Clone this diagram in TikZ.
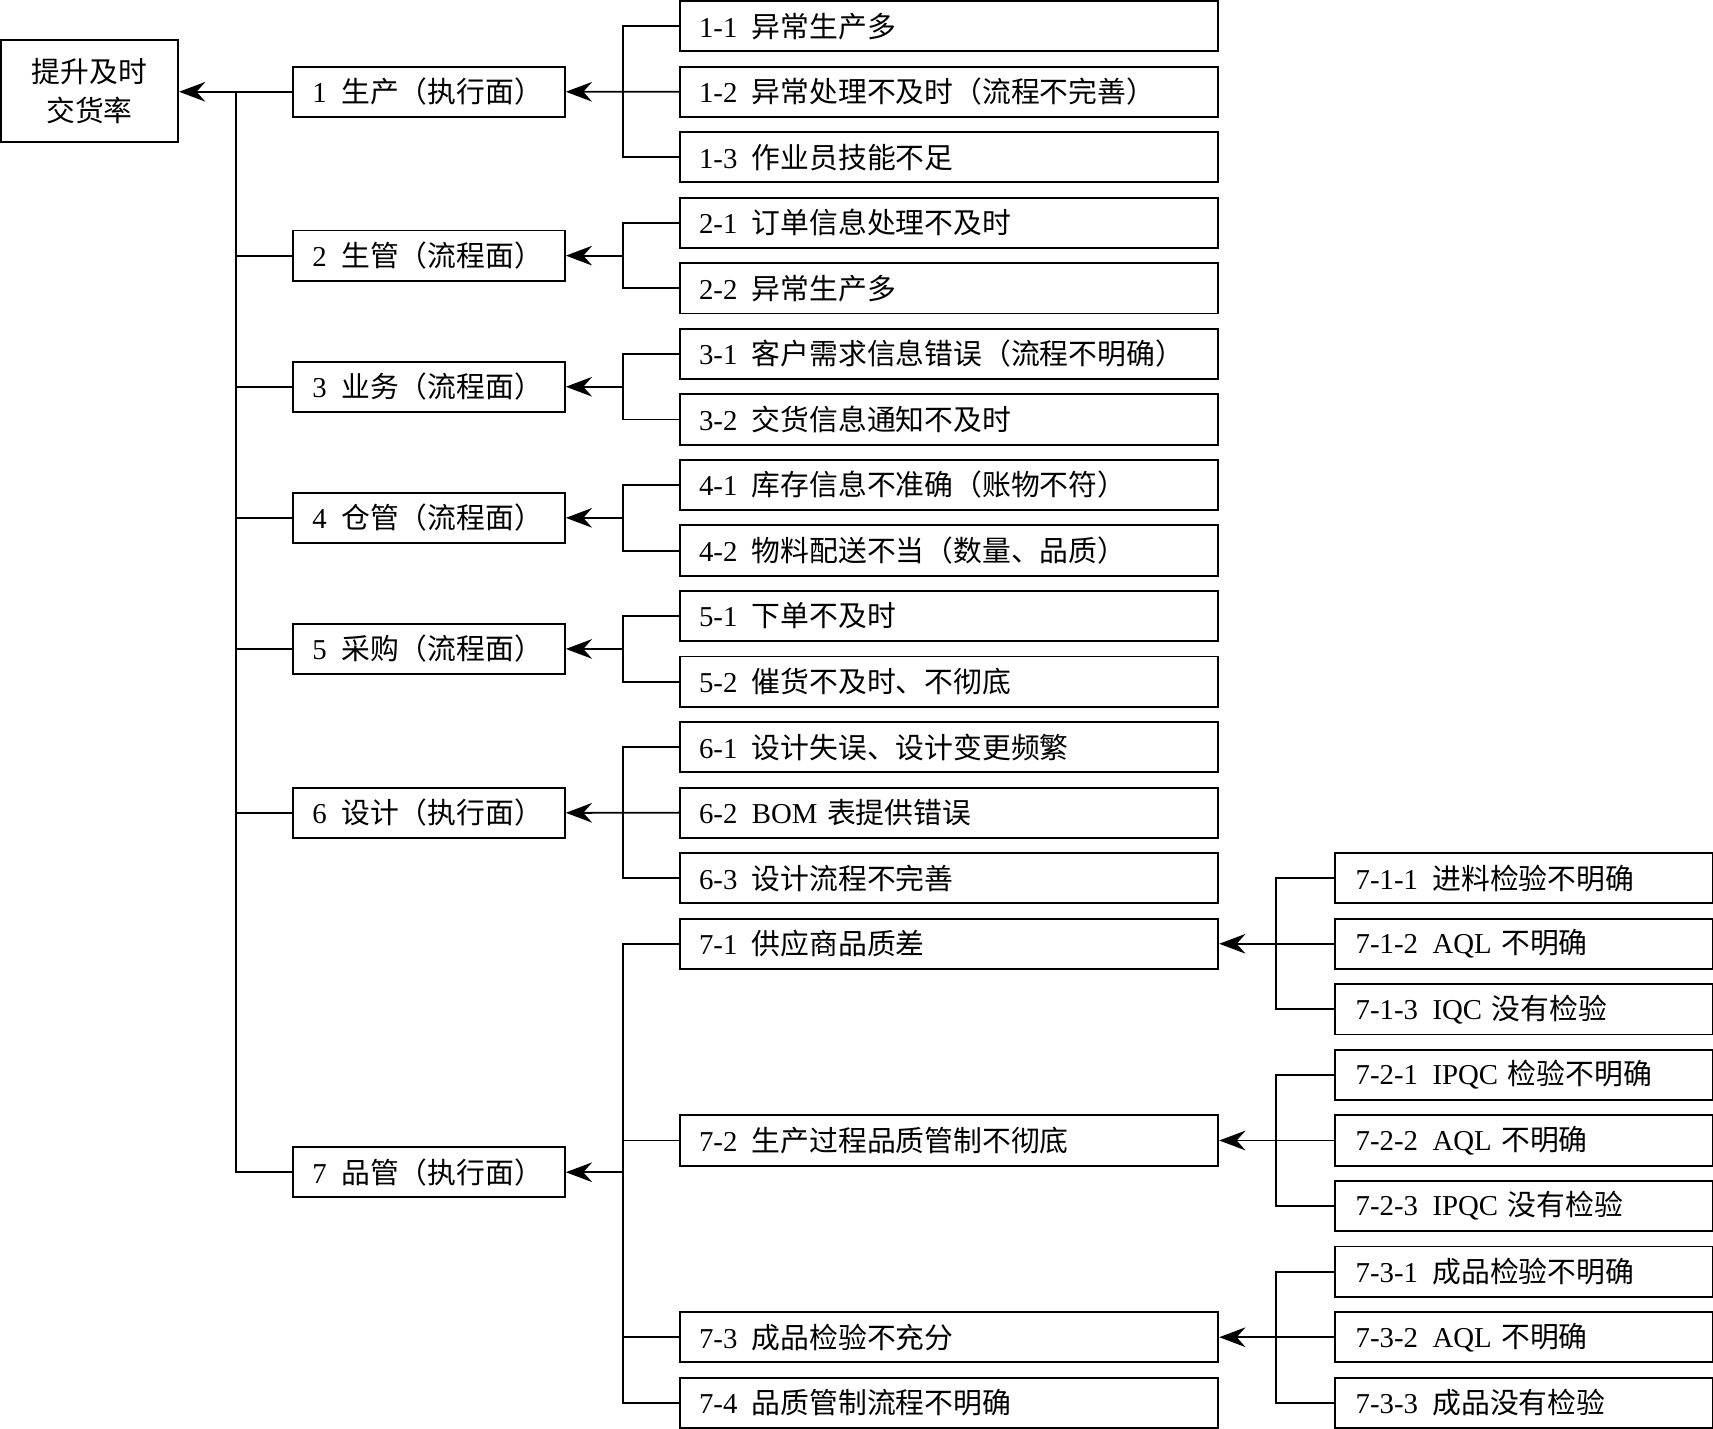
\documentclass[tikz,border=0pt]{standalone}
\usepackage{fontspec}
\setmainfont{Liberation Serif}
\newfontfamily\cjk{Noto Sans CJK SC}
\usepackage{tikz}
\usetikzlibrary{%
  arrows.meta, positioning, calc
}
\usepackage{xcolor}
\newcommand{\lbl}[2]{#1\enspace{\cjk #2}}
\tikzstyle{rootbox} = [%
  rectangle,
  draw=black,
  minimum width=1.62cm,
  minimum height=0.93cm,
  align=center,
  inner sep=1pt
]
\tikzstyle{catbox} = [%
  rectangle,
  draw=black,
  minimum height=0.46cm,
  text width=2.13cm,
  inner xsep=0.18cm,
  inner ysep=0pt,
  align=left
]
\tikzstyle{causebox} = [%
  rectangle,
  draw=black,
  minimum height=0.46cm,
  text width=4.58cm,
  inner xsep=0.17cm,
  inner ysep=0pt,
  align=left
]
\tikzstyle{subbox} = [%
  rectangle,
  draw=black,
  minimum height=0.46cm,
  text width=3.08cm,
  inner xsep=0.19cm,
  inner ysep=0pt,
  align=left
]

\begin{document}
\begin{tikzpicture}[%
  x=0.01cm, y=-0.01cm,
  line width=0.5pt,
  >={Stealth[length=2.4mm,width=1.8mm,inset=0.8mm]},
  every node/.style={%
    font=\fontsize{7.5pt}{10pt}\selectfont,
    text=black
  }
]
  \useasboundingbox (0,0) rectangle (1568,1308);

  % Goal
  \node[rootbox] (Goal) at (82,83.5) {{\cjk 提升及时}\\{\cjk 交货率}};

  % Categories
  \node[catbox] (K1) at (392.5,84)   {\lbl{1}{生产（执行面）}};
  \node[catbox] (K2) at (392.5,234)  {\lbl{2}{生管（流程面）}};
  \node[catbox] (K3) at (392.5,354)  {\lbl{3}{业务（流程面）}};
  \node[catbox] (K4) at (392.5,474)  {\lbl{4}{仓管（流程面）}};
  \node[catbox] (K5) at (392.5,594)  {\lbl{5}{采购（流程面）}};
  \node[catbox] (K6) at (392.5,744)  {\lbl{6}{设计（执行面）}};
  \node[catbox] (K7) at (392.5,1073) {\lbl{7}{品管（执行面）}};

  % Causes
  \node[causebox] (C11) at (869,24) {\lbl{1-1}{异常生产多}};
  \node[causebox,below=0.122cm of C11] (C12) {\lbl{1-2}{异常处理不及时（流程不完善）}};
  \node[causebox,below=0.122cm of C12] (C13) {\lbl{1-3}{作业员技能不足}};
  \node[causebox,below=0.122cm of C13] (C21) {\lbl{2-1}{订单信息处理不及时}};
  \node[causebox,below=0.122cm of C21] (C22) {\lbl{2-2}{异常生产多}};
  \node[causebox,below=0.122cm of C22] (C31) {\lbl{3-1}{客户需求信息错误（流程不明确）}};
  \node[causebox,below=0.122cm of C31] (C32) {\lbl{3-2}{交货信息通知不及时}};
  \node[causebox,below=0.122cm of C32] (C41) {\lbl{4-1}{库存信息不准确（账物不符）}};
  \node[causebox,below=0.122cm of C41] (C42) {\lbl{4-2}{物料配送不当（数量、品质）}};
  \node[causebox,below=0.122cm of C42] (C51) {\lbl{5-1}{下单不及时}};
  \node[causebox,below=0.122cm of C51] (C52) {\lbl{5-2}{催货不及时、不彻底}};
  \node[causebox,below=0.122cm of C52] (C61) {\lbl{6-1}{设计失误、设计变更频繁}};
  \node[causebox,below=0.122cm of C61] (C62) {6-2\enspace BOM {\cjk 表提供错误}};
  \node[causebox,below=0.122cm of C62] (C63) {\lbl{6-3}{设计流程不完善}};
  \node[causebox,below=0.122cm of C63] (C71) {\lbl{7-1}{供应商品质差}};
  \node[causebox,below=1.322cm of C71] (C72) {\lbl{7-2}{生产过程品质管制不彻底}};
  \node[causebox,below=1.322cm of C72] (C73) {\lbl{7-3}{成品检验不充分}};
  \node[causebox,below=0.122cm of C73] (C74) {\lbl{7-4}{品质管制流程不明确}};

  % Sub-causes
  \node[subbox,right=1.05cm of C71] (S712) {7-1-2\enspace AQL {\cjk 不明确}};
  \node[subbox,above=0.122cm of S712] (S711) {\lbl{7-1-1}{进料检验不明确}};
  \node[subbox,below=0.122cm of S712] (S713) {7-1-3\enspace IQC {\cjk 没有检验}};
  \node[subbox,right=1.05cm of C72] (S722) {7-2-2\enspace AQL {\cjk 不明确}};
  \node[subbox,above=0.122cm of S722] (S721) {7-2-1\enspace IPQC {\cjk 检验不明确}};
  \node[subbox,below=0.122cm of S722] (S723) {7-2-3\enspace IPQC {\cjk 没有检验}};
  \node[subbox,right=1.05cm of C73] (S732) {7-3-2\enspace AQL {\cjk 不明确}};
  \node[subbox,above=0.122cm of S732] (S731) {\lbl{7-3-1}{成品检验不明确}};
  \node[subbox,below=0.122cm of S732] (S733) {\lbl{7-3-3}{成品没有检验}};

  % Bus lines
  \coordinate (bus0) at (216,84);
  \coordinate (bus1) at (570,0);
  \coordinate (bus2) at (1168,0);

  % Categories to goal
  \draw[->] (K1.west) -- (K1.west -| Goal.east);
  \draw (K1.west -| bus0) |- (K7.west);
  \draw (K2.west) -- (K2.west -| bus0);
  \draw (K3.west) -- (K3.west -| bus0);
  \draw (K4.west) -- (K4.west -| bus0);
  \draw (K5.west) -- (K5.west -| bus0);
  \draw (K6.west) -- (K6.west -| bus0);

  % Causes to categories
  \draw (C11.west) -| (C13.west -| bus1) -- (C13.west);
  \draw[->] (C12.west) -- (K1.east);
  \draw (C21.west) -| (C22.west -| bus1) -- (C22.west);
  \draw[->] (K2.east -| bus1) -- (K2.east);
  \draw (C31.west) -| (C32.west -| bus1) -- (C32.west);
  \draw[->] (K3.east -| bus1) -- (K3.east);
  \draw (C41.west) -| (C42.west -| bus1) -- (C42.west);
  \draw[->] (K4.east -| bus1) -- (K4.east);
  \draw (C51.west) -| (C52.west -| bus1) -- (C52.west);
  \draw[->] (K5.east -| bus1) -- (K5.east);
  \draw (C61.west) -| (C63.west -| bus1) -- (C63.west);
  \draw[->] (C62.west) -- (K6.east);
  \draw (C71.west) -| (C74.west -| bus1) -- (C74.west);
  \draw (C72.west) -- (C72.west -| bus1);
  \draw (C73.west) -- (C73.west -| bus1);
  \draw[->] (K7.east -| bus1) -- (K7.east);

  % Sub-causes to causes
  \draw (S711.west) -| (S713.west -| bus2) -- (S713.west);
  \draw[->] (S712.west) -- (C71.east);
  \draw (S721.west) -| (S723.west -| bus2) -- (S723.west);
  \draw[->] (S722.west) -- (C72.east);
  \draw (S731.west) -| (S733.west -| bus2) -- (S733.west);
  \draw[->] (S732.west) -- (C73.east);

\end{tikzpicture}
\end{document}
